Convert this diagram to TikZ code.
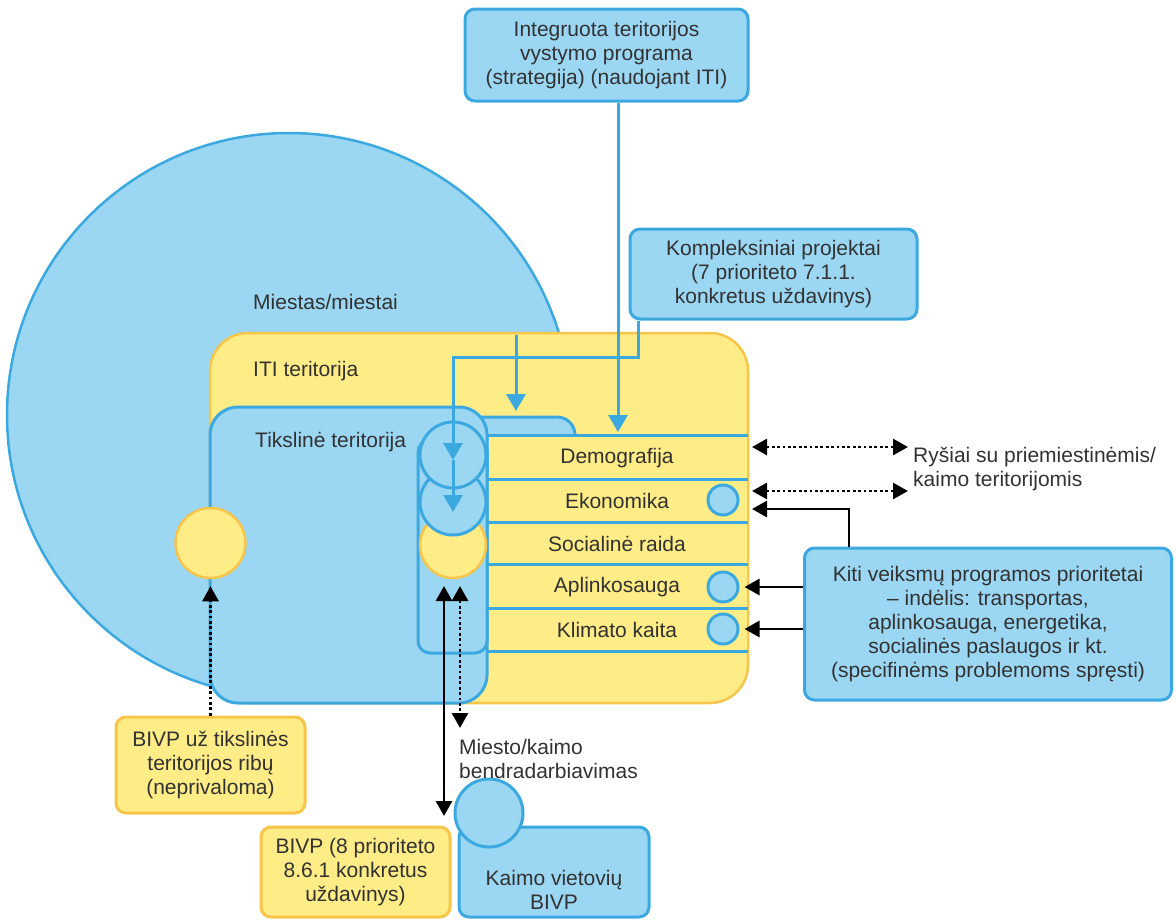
\documentclass[tikz,border=0pt]{standalone}
\usepackage{fontspec}
\setmainfont{Liberation Sans}
\usetikzlibrary{arrows.meta}
\definecolor{cityblue}{RGB}{155,215,243}
\definecolor{edgeblue}{RGB}{59,169,224}
\definecolor{itiyellow}{RGB}{254,236,134}
\definecolor{edgeyellow}{RGB}{246,197,74}
\definecolor{txtgray}{RGB}{50,50,50}
\begin{document}
\begin{tikzpicture}[x=1pt,y=-1pt,
    every node/.style={font=\fontsize{21}{24}\selectfont,text=txtgray,inner sep=0pt},
    bluebox/.style={draw=edgeblue,fill=cityblue,line width=3pt,rounded corners=10pt,align=center},
    yelbox/.style={draw=edgeyellow,fill=itiyellow,line width=3pt,rounded corners=10pt,align=center},
    bluedisc/.style={circle,draw=edgeblue,fill=cityblue,line width=3pt},
    yeldisc/.style={circle,draw=edgeyellow,fill=itiyellow,line width=2.5pt},
    bluearr/.style={edgeblue,line width=3pt,-{Triangle[length=17pt,width=19pt]}},
    blkarr/.style={black,line width=2.8pt,-{Triangle[length=15pt,width=16pt]}},
    blkboth/.style={black,line width=2.8pt,{Triangle[length=15pt,width=16pt]}-{Triangle[length=15pt,width=16pt]}},
    dotboth/.style={blkboth,dash pattern=on 2.8pt off 2.6pt},
    dotarr/.style={blkarr,dash pattern=on 2.8pt off 2.6pt}]
                \useasboundingbox (0,0) rectangle (1176,919);
                %% areas
                \draw[edgeblue,fill=cityblue,line width=2.5pt] (289,415) circle[radius=282pt];
                \draw[edgeyellow,fill=itiyellow,line width=2.5pt,rounded corners=38pt] (210,333) rectangle (748,703);
                \draw[edgeblue,fill=cityblue,line width=3pt,rounded corners=18pt] (418,417) rectangle (575,470);
                \draw[edgeblue,fill=cityblue,line width=3pt,rounded corners=28pt] (210,407) rectangle (487,703);
                \draw[edgeblue,fill=cityblue,line width=3pt,rounded corners=12pt] (418,440) rectangle (487,653);
                \node[anchor=west] (citylbl) at (253,302) {Miestas/miestai};
                \node[anchor=west] (itilbl) at (253,371) {ITI teritorija};
                \node[anchor=west] (tgtlbl) at (255,442) {Tikslinė teritorija};
                %% rows
                \fill[itiyellow] (488.5,436.5) rectangle (746.5,649.5);
                \draw[edgeblue,line width=3pt] (487,435) -- (748,435);
                \draw[edgeblue,line width=3pt] (487,479) -- (748,479);
                \draw[edgeblue,line width=3pt] (487,522) -- (748,522);
                \draw[edgeblue,line width=3pt] (487,564) -- (748,564);
                \draw[edgeblue,line width=3pt] (487,608) -- (748,608);
                \draw[edgeblue,line width=3pt] (487,651) -- (748,651);
                \node (demlbl) at (617,458) {Demografija};
                \node (ekolbl) at (617,501) {Ekonomika};
                \node (soclbl) at (617,544) {Socialinė raida};
                \node (apllbl) at (617,587) {Aplinkosauga};
                \node (klimlbl) at (617,630) {Klimato kaita};
                %% circles
                \node[yeldisc,minimum size=70pt] (ycircL) at (210.5,543) {};
                \node[yeldisc,minimum size=66pt] (ycircC) at (453,545) {};
                \node[bluedisc,minimum size=66pt] (ekoC) at (453,502) {};
                \node[bluedisc,minimum size=66pt] (demC) at (453,455) {};
                \node[bluedisc,minimum size=30pt] (ekoDot) at (723,500) {};
                \node[bluedisc,minimum size=30pt] (aplDot) at (723,587) {};
                \node[bluedisc,minimum size=30pt] (klimDot) at (723,629) {};
                %% boxes
                \node[bluebox,minimum width=283pt,minimum height=92pt] (integ) at (606.5,55) {Integruota teritorijos\\vystymo programa\\(strategija) (naudojant ITI)};
                \node[bluebox,minimum width=287pt,minimum height=90pt] (kompl) at (773.5,274) {Kompleksiniai projektai\\(7 prioriteto 7.1.1.\\konkretus uždavinys)};
                \node[bluebox,minimum width=367pt,minimum height=152pt] (kiti) at (988,624) {Kiti veiksmų programos prioritetai\\– indėlis: transportas,\\aplinkosauga, energetika,\\socialinės paslaugos ir kt.\\(specifinėms problemoms spręsti)};
                \node[yelbox,minimum width=189pt,minimum height=96pt] (bivpuz) at (210.5,765) {BIVP už tikslinės\\teritorijos ribų\\(neprivaloma)};
                \node[yelbox,minimum width=189pt,minimum height=90pt] (bivpaat) at (355.5,872) {BIVP (8 prioriteto\\8.6.1 konkretus\\uždavinys)};
                \node[bluebox,minimum width=190pt,minimum height=90pt] (kaimo) at (554,872) {};
                \node[align=center] (kaimolbl) at (554,890) {Kaimo vietovių\\BIVP};
                \node[bluedisc,minimum size=68pt] (kaimoC) at (489,813) {};
                \node[anchor=west,align=left] (linklbl) at (913,469) {Ryšiai su priemiestinėmis/\\kaimo teritorijomis};
                \node[anchor=west,align=left] (collablbl) at (459,759) {Miesto/kaimo\\bendradarbiavimas};
                %% blue arrows
                \coordinate (demTop) at (618,432);
                \coordinate (komBend) at (638,357);
                \coordinate (demTip) at (453,460);
                \coordinate (ekoTip) at (453,512);
                \coordinate (cityIn) at (516,335);
                \coordinate (tabTip) at (516,411);
                \draw[bluearr] (integ.south -| demTop) -- (demTop);
                \draw[bluearr] (kompl.south -| komBend) -- (komBend) -| (demTip);
                \draw[bluearr] (demTip) -- (ekoTip);
                \draw[bluearr] (cityIn) -- (tabTip);
                %% black arrows, bottom
                \coordinate (tUp) at (444,586);
                \coordinate (tDn) at (444,816);
                \coordinate (cUp) at (460,586);
                \coordinate (cDn) at (460,728);
                \draw[dotarr,shorten >=7pt] (bivpuz.north) -- (ycircL.south);
                \draw[blkboth] (tUp) -- (tDn);
                \draw[dotboth] (cUp) -- (cDn);
                %% black arrows, right
                \coordinate (demL) at (752,447);
                \coordinate (demR) at (908,447);
                \coordinate (ekoL) at (752,491);
                \coordinate (ekoR) at (908,491);
                \coordinate (ekoIn) at (752,509);
                \coordinate (ekoBend) at (849,509);
                \draw[dotboth] (demL) -- (demR);
                \draw[dotboth] (ekoL) -- (ekoR);
                \draw[blkarr] (kiti.north -| ekoBend) -- (ekoBend) -- (ekoIn);
                \draw[blkarr,shorten >=5pt] (kiti.west |- aplDot) -- (aplDot.east);
                \draw[blkarr,shorten >=5pt] (kiti.west |- klimDot) -- (klimDot.east);
            \end{tikzpicture}
\end{document}
